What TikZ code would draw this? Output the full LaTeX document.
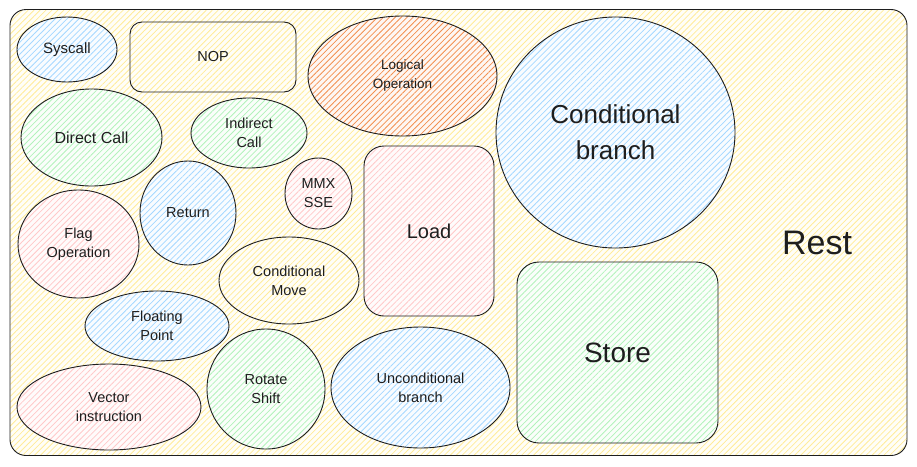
\documentclass[tikz,border=0pt]{standalone}
\usepackage{fontspec}
\setmainfont{Liberation Sans}
\usetikzlibrary{shapes.geometric,patterns.meta}
\definecolor{ink}{HTML}{1E1E1E}
\definecolor{cyellow}{HTML}{FFEC99}
\definecolor{cblue}{HTML}{A5D8FF}
\definecolor{cgreen}{HTML}{B2F2BB}
\definecolor{cpink}{HTML}{FFC9C9}
\definecolor{corange}{HTML}{F29050}
\tikzset{
  shapebase/.style={draw=ink, line width=0.9pt, align=center, text=ink, inner sep=0pt,
    font=\fontsize{14.5}{19}\selectfont},
  hatch/.style={preaction={fill=#1!7}, pattern={Lines[angle=45,distance=4.2pt,line width=0.8pt]}, pattern color=#1},
  oval/.style={shapebase, ellipse},
  rbox/.style={shapebase, rectangle, rounded corners=#1},
}
\begin{document}
\begin{tikzpicture}[x=1pt,y=-1pt]
\useasboundingbox (0,0) rectangle (917,466);
\node[rbox=16pt, hatch=cyellow, minimum width=897pt, minimum height=446pt] (outer) at (458.5,232.5) {};
\node[text=ink, font=\fontsize{34}{40}\selectfont] (rest) at (817,243) {Rest};

\node[oval, hatch=cblue, minimum width=100pt, minimum height=65pt, font=\fontsize{15}{19}\selectfont] (syscall) at (67,49.5) {Syscall};
\node[rbox=12pt, hatch=cyellow, minimum width=166pt, minimum height=70pt] (nop) at (213,57) {NOP};
\node[oval, hatch=cgreen, minimum width=141pt, minimum height=97pt, font=\fontsize{16}{19}\selectfont] (dcall) at (91.5,137.5) {Direct Call};
\node[oval, hatch=cgreen, minimum width=116pt, minimum height=70pt] (icall) at (249,133) {Indirect\\Call};
\node[oval, hatch=cblue, minimum width=96pt, minimum height=104pt] (ret) at (188,213) {Return};
\node[oval, hatch=cpink, minimum width=67pt, minimum height=71pt] (mmx) at (318.5,193.5) {MMX\\SSE};
\node[oval, hatch=cpink, minimum width=121pt, minimum height=108pt] (flag) at (78.5,244) {Flag\\Operation};
\node[oval, hatch=cyellow, minimum width=140pt, minimum height=87pt] (cmove) at (289,280.5) {Conditional\\Move};
\node[oval, hatch=cblue, minimum width=144pt, minimum height=70pt] (fp) at (157,326) {Floating\\Point};
\node[oval, hatch=cpink, minimum width=184pt, minimum height=86pt] (vec) at (109,407) {Vector\\instruction};
\node[oval, hatch=cgreen, minimum width=118pt, minimum height=120pt] (rot) at (266,389) {Rotate\\Shift};
\node[oval, hatch=cblue, minimum width=179pt, minimum height=121pt] (ubr) at (420.5,387.5) {Unconditional\\branch};
\node[oval, hatch=corange, minimum width=189pt, minimum height=120pt, font=\fontsize{13.5}{19}\selectfont] (logic) at (402.5,76) {Logical\\Operation};
\node[rbox=20pt, hatch=cpink, minimum width=130pt, minimum height=170pt, font=\fontsize{20}{24}\selectfont] (load) at (429,231) {Load};
\node[oval, hatch=cblue, minimum width=239pt, minimum height=231pt, font=\fontsize{26}{36}\selectfont] (cbr) at (615.5,132.5) {Conditional\\branch};
\node[rbox=22pt, hatch=cgreen, minimum width=201pt, minimum height=181pt, font=\fontsize{28}{32}\selectfont] (store) at (617.5,352.5) {Store};
\end{tikzpicture}
\end{document}
